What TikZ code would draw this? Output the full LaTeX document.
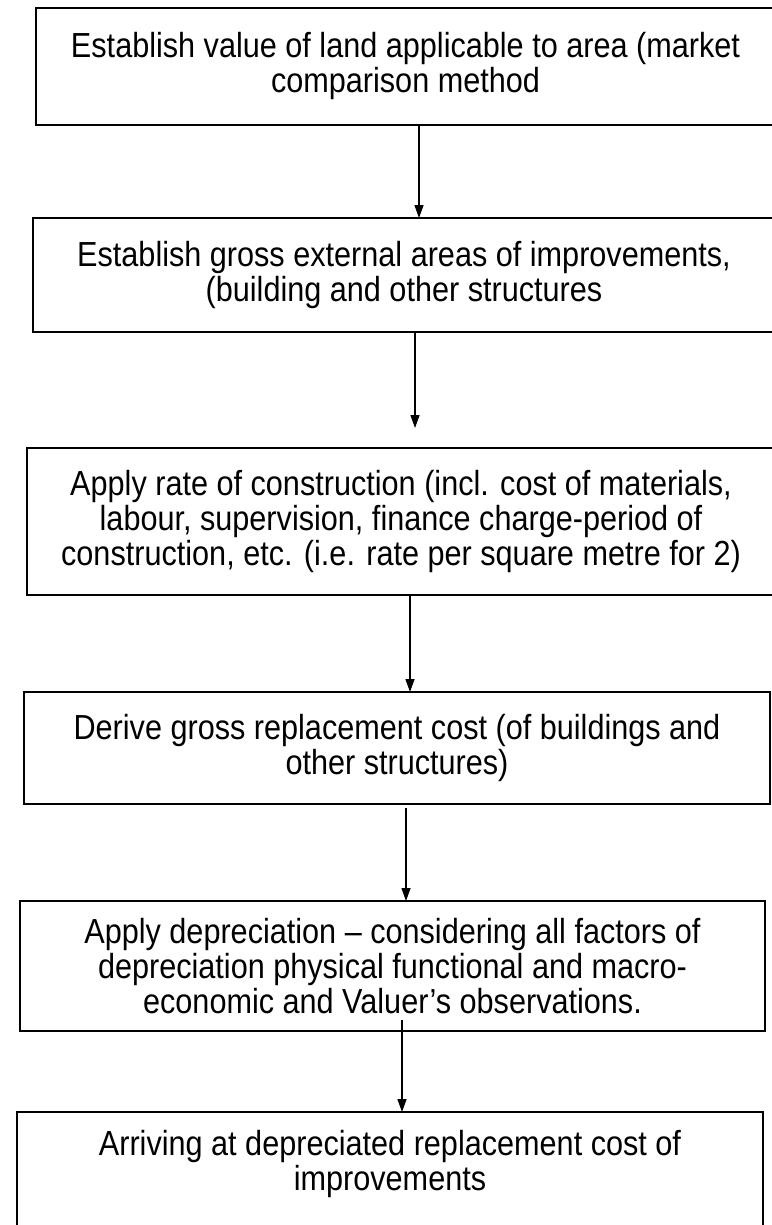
\documentclass[tikz,border=0pt]{standalone}
\usepackage{fontspec}
\setmainfont{Liberation Sans}[FakeStretch=0.88]
\usepackage{tikz}
\usetikzlibrary{arrows.meta}

\tikzset{
  stepbox/.style={draw, line width=1.8pt, inner sep=0pt, outer sep=0pt, align=center,
    font=\fontsize{34.8}{35}\selectfont},
  flow/.style={line width=1.3pt, -{Triangle[length=13pt,width=9pt]}}
}

\begin{document}
\begin{tikzpicture}[x=1pt, y=-1pt]
\useasboundingbox (0,0) rectangle (771,1225);

\node[stepbox, minimum width=739pt, minimum height=117pt] (land) at (405.5,66.5)
  {Establish value of land applicable to area (market\\ comparison method};
\node[stepbox, minimum width=742pt, minimum height=114pt] (areas) at (404,275)
  {Establish gross external areas of improvements,\\ (building and other structures};
\node[stepbox, minimum width=748pt, minimum height=147pt] (rate) at (401,521.5)
  {Apply rate of construction (incl. cost of materials,\\ labour, supervision, finance charge-period of\\ construction, etc. (i.e. rate per square metre for 2)};
\node[stepbox, minimum width=746pt, minimum height=112pt] (gross) at (397,748)
  {Derive gross replacement cost (of buildings and\\ other structures)};
\node[stepbox, minimum width=745pt, minimum height=130pt] (deprec) at (392.5,966)
  {Apply depreciation -- considering all factors of\\ depreciation physical functional and macro-\\ economic and Valuer's observations.};
\node[stepbox, draw=none, minimum width=746pt, minimum height=104pt] (drc) at (390,1164)
  {Arriving at depreciated replacement cost of\\ improvements};

% last box runs past the bottom edge
\draw[line width=1.8pt] ([yshift=-60pt]drc.south west) -- (drc.north west)
  -- (drc.north east) -- ([yshift=-60pt]drc.south east);

% arrow start points
\coordinate (a1) at ([xshift=13.5pt]land.south);
\coordinate (a2) at ([xshift=11pt]areas.south);
\coordinate (a3) at ([xshift=9pt]rate.south);
\coordinate (a4) at ([xshift=9pt]gross.south);
\coordinate (a5) at ([xshift=9.5pt]deprec.south);

\draw[flow] (a1) -- (a1 |- areas.north);
\draw[flow, shorten >=20pt] (a2) -- (a2 |- rate.north);
\draw[flow] (a3) -- (a3 |- gross.north);
\draw[flow, shorten <=4pt] (a4) -- (a4 |- deprec.north);
\draw[flow, shorten <=-11pt] (a5) -- (a5 |- drc.north);

\end{tikzpicture}
\end{document}
